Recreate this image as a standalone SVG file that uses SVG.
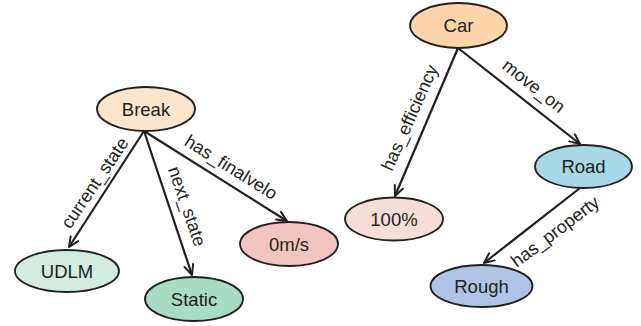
<svg xmlns="http://www.w3.org/2000/svg" width="641" height="326" viewBox="0 0 641 326">
  <defs>
    <marker id="arrow" viewBox="0 0 12 12" refX="11" refY="6" markerWidth="12" markerHeight="12" markerUnits="userSpaceOnUse" orient="auto">
      <path d="M1,1.5 L11,6 L1,10.5" fill="none" stroke="#231f20" stroke-width="2" stroke-linecap="round" stroke-linejoin="round"/>
    </marker>
    <style>
      .node ellipse { stroke: #231f20; stroke-width: 1.8; }
      .node text { font-family: "Liberation Sans", Arial, sans-serif; font-size: 18.5px; fill: #231f20; text-anchor: middle; dominant-baseline: central; }
      .edge { stroke: #231f20; stroke-width: 2.2; fill: none; marker-end: url(#arrow); }
      .label { font-family: "Liberation Sans", Arial, sans-serif; font-size: 18px; fill: #231f20; text-anchor: middle; dominant-baseline: central; }
    </style>
  </defs>
  <rect width="641" height="326" fill="#ffffff"/>

  <!-- connectors -->
  <g id="connectors">
    <line class="edge" x1="144" y1="131" x2="69" y2="247"/>
    <line class="edge" x1="144" y1="131" x2="192" y2="275"/>
    <line class="edge" x1="144" y1="131" x2="287" y2="221"/>
    <line class="edge" x1="458" y1="48" x2="395" y2="196"/>
    <line class="edge" x1="458" y1="48" x2="580" y2="144"/>
    <line class="edge" x1="580" y1="188" x2="484" y2="263"/>
    <text class="label" transform="translate(94.8,182.9) rotate(-55.8)">current_state</text>
    <text class="label" transform="translate(187,206.4) rotate(71)">next_state</text>
    <text class="label" transform="translate(231,167.3) rotate(32)">has_finalvelo</text>
    <text class="label" transform="translate(409.7,117.7) rotate(-66)">has_efficiency</text>
    <text class="label" transform="translate(533.7,86) rotate(38.2)">move_on</text>
    <text class="label" transform="translate(555.2,231.6) rotate(-37)">has_property</text>
  </g>

  <!-- nodes -->
  <g id="break" class="node">
    <ellipse cx="146" cy="109" rx="49" ry="22" fill="#fde4cc"/>
    <text x="146" y="109">Break</text>
  </g>
  <g id="udlm" class="node">
    <ellipse cx="67" cy="271" rx="52" ry="21" fill="#d3ece0"/>
    <text x="67" y="271">UDLM</text>
  </g>
  <g id="static" class="node">
    <ellipse cx="194" cy="299" rx="49" ry="22" fill="#a9dcc5"/>
    <text x="194" y="299">Static</text>
  </g>
  <g id="zero-velocity" class="node">
    <ellipse cx="289" cy="244" rx="49" ry="22" fill="#f2c5c0"/>
    <text x="289" y="244">0m/s</text>
  </g>
  <g id="car" class="node">
    <ellipse cx="458.5" cy="25.5" rx="48.5" ry="22.5" fill="#fdd5aa"/>
    <text x="458.5" y="25.5">Car</text>
  </g>
  <g id="efficiency" class="node">
    <ellipse cx="394" cy="219" rx="49" ry="21.5" fill="#f7ddd8"/>
    <text x="394" y="219">100%</text>
  </g>
  <g id="road" class="node">
    <ellipse cx="583.5" cy="166.5" rx="48.5" ry="21.5" fill="#a8d7e8"/>
    <text x="583.5" y="166.5">Road</text>
  </g>
  <g id="rough" class="node">
    <ellipse cx="481.5" cy="286" rx="51" ry="21" fill="#aec5e7"/>
    <text x="481.5" y="286">Rough</text>
  </g>
</svg>
